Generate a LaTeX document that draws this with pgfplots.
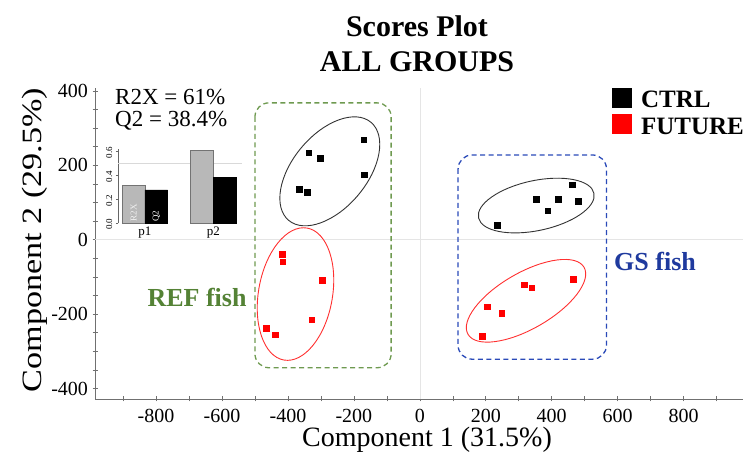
\documentclass[border=0pt]{standalone}
\usepackage{pgfplots}
\pgfplotsset{compat=1.18}
\usepackage{fontspec}
\setmainfont{Liberation Serif}
\definecolor{refgreen}{HTML}{548235}
\definecolor{refgreenbox}{HTML}{6E9A50}
\definecolor{gsblue}{HTML}{1F3A9E}
\definecolor{gsbluebox}{HTML}{2A4AB8}
\definecolor{ellred}{HTML}{FF3030}
\definecolor{axgray}{HTML}{707070}
\begin{document}
\begin{tikzpicture}[x=1pt,y=1pt]
\useasboundingbox (0pt,0pt) rectangle (751pt,457pt);
% ---------------- main scores axis ----------------
\begin{axis}[
  at={(95pt,58pt)}, anchor=south west,
  scale only axis, width=648pt, height=311pt,
  xmin=-985, xmax=980, ymin=-428, ymax=408,
  clip=false,
  axis x line*=bottom, axis y line*=left,
  x axis line style={-, draw=axgray, line width=0.8pt},
  y axis line style={-, draw=axgray, line width=0.8pt},
  tick style={draw=axgray, line width=0.6pt},
  tick align=center, major tick length=5pt, minor tick length=5pt,
  xtick={-800,-600,-400,-200,0,200,400,600,800},
  xticklabels={-800,-600,-400,-200,0,200,400,600,800},
  minor xtick={-900,-700,-500,-300,-100,100,300,500,700,900},
  ytick={-400,-200,0,200,400},
  yticklabels={-400,-200,0,200,400},
  minor ytick={-350,-300,-250,-150,-100,-50,50,100,150,250,300,350},
  ticklabel style={font=\fontsize{20}{22}\selectfont},
  xticklabel style={yshift=-4pt},
  yticklabel style={xshift=-1pt},
  legend style={at={(axis description cs:0.797,1.0)}, anchor=north west,
    draw=none, fill=none, inner sep=0pt, row sep=4pt,
    font=\fontsize{25}{25}\selectfont\bfseries,
    nodes={inner sep=1pt}},
  legend cell align=left,
]
% zero lines
\addplot[black!10, line width=0.6pt, forget plot] coordinates {(0,-428) (0,408)};
\addplot[black!10, line width=0.6pt, forget plot] coordinates {(-985,0) (980,0)};

\addplot[only marks, mark=square*, mark size=2.9pt, black,
  legend image code/.code={\fill[black] (0pt,-7pt) rectangle (19pt,12pt); \path (28pt,0pt);}]
  coordinates {
  (-170,269) (-337,234) (-303,220) (-168,175) (-367,136) (-342,127)
  (461,148) (353,109) (420,109) (481,104) (388,78) (234,39)
  };
\addlegendentry{CTRL}
\addplot[only marks, mark=square*, mark size=2.9pt, red,
  legend image code/.code={\fill[red] (0pt,-7pt) rectangle (19pt,12pt); \path (28pt,0pt);}]
  coordinates {
  (-418,-38) (-416,-59) (-296,-109) (-328,-215) (-466,-237) (-439,-255)
  (465,-105) (316,-121) (339,-129) (205,-180) (248,-197) (188,-260)
  };
\addlegendentry{FUTURE}

% group boxes
\draw[refgreenbox, line width=1.3pt, dash pattern=on 5pt off 3.5pt, rounded corners=14pt]
  (axis cs:-500,368) rectangle (axis cs:-87,-344);
\draw[gsbluebox, line width=1.3pt, dash pattern=on 5pt off 3.5pt, rounded corners=14pt]
  (axis cs:116,228) rectangle (axis cs:566,-321);
\coordinate (e1) at (axis cs:-273,184);
\coordinate (e2) at (axis cs:-377,-146);
\coordinate (e3) at (axis cs:353,92);
\coordinate (e4) at (axis cs:322,-164);
\end{axis}

% confidence ellipses
\draw[black!80, line width=0.9pt, rotate around={50:(e1)}] (e1) ellipse [x radius=64pt, y radius=37pt];
\draw[ellred, line width=0.9pt, rotate around={80:(e2)}] (e2) ellipse [x radius=67pt, y radius=37pt];
\draw[black!80, line width=0.9pt, rotate around={12:(e3)}] (e3) ellipse [x radius=59pt, y radius=25pt];
\draw[ellred, line width=0.9pt, rotate around={30:(e4)}] (e4) ellipse [x radius=67pt, y radius=28pt];

% group labels
\node[refgreen, font=\fontsize{26}{26}\selectfont\bfseries] at (197pt,160pt) {REF fish};
\node[gsblue, font=\fontsize{26}{26}\selectfont\bfseries] at (655pt,196pt) {GS fish};

% title
\node[anchor=base, font=\fontsize{30}{30}\selectfont\bfseries] at (417pt,420pt) {Scores Plot};
\node[anchor=base, font=\fontsize{30}{30}\selectfont\bfseries] at (417pt,385pt) {ALL GROUPS};

% axis titles
\node[anchor=base, font=\fontsize{28}{28}\selectfont] at (427pt,10pt) {Component 1 (31.5\%)};
\node[rotate=90, anchor=base, font=\fontsize{28}{28}\selectfont] at (41pt,217pt) {\scalebox{1.22}[1]{Component 2 (29.5\%)}};

% R2X / Q2
\node[anchor=base west, inner sep=0pt, font=\fontsize{23}{23}\selectfont] at (115pt,352pt) {R2X = 61\%};
\node[anchor=base west, inner sep=0pt, font=\fontsize{23}{23}\selectfont] at (115pt,330pt) {Q2 = 38.4\%};

% ---------------- inset bar chart ----------------
\begin{axis}[
  at={(118.3pt,233.7pt)}, anchor=south west,
  scale only axis, width=123.7pt, height=74pt,
  xmin=-0.39, xmax=1.42, ymin=0, ymax=0.62,
  clip=false,
  axis x line*=bottom, axis y line*=left,
  x axis line style={draw=none},
  y axis line style={-, draw=black!60, line width=0.5pt},
  xtick={0,1}, xticklabels={p1,p2},
  x tick style={draw=none},
  xticklabel style={font=\fontsize{13}{13}\selectfont, yshift=2pt},
  ytick={0,0.2,0.4,0.6}, yticklabels={0.0,0.2,0.4,0.6},
  y tick style={draw=black!60, line width=0.5pt},
  tick align=outside, major tick length=2.5pt,
  yticklabel style={rotate=90, anchor=south, font=\fontsize{9}{9}\selectfont, xshift=-1pt},
  extra y ticks={0.5}, extra y tick labels={},
  extra y tick style={grid=major, major grid style={black!15, line width=0.6pt}, major tick length=0pt},
]
\addplot[ybar, bar width=22.7pt, bar shift=-11.35pt, fill=black!28, draw=black!55, line width=0.6pt]
  coordinates {(0,0.315) (1,0.61)};
\addplot[ybar, bar width=22.7pt, bar shift=11.35pt, fill=black, draw=black, line width=0.6pt]
  coordinates {(0,0.28) (1,0.384)};
\node[rotate=90, anchor=west, black!5, font=\fontsize{9}{9}\selectfont, inner sep=1pt]
  at ([xshift=-11.35pt]axis cs:0,0.005) {R2X};
\node[rotate=90, anchor=west, white, font=\fontsize{9}{9}\selectfont, inner sep=1pt]
  at ([xshift=11.35pt]axis cs:0,0.005) {Q2};
\end{axis}
\end{tikzpicture}
\end{document}
